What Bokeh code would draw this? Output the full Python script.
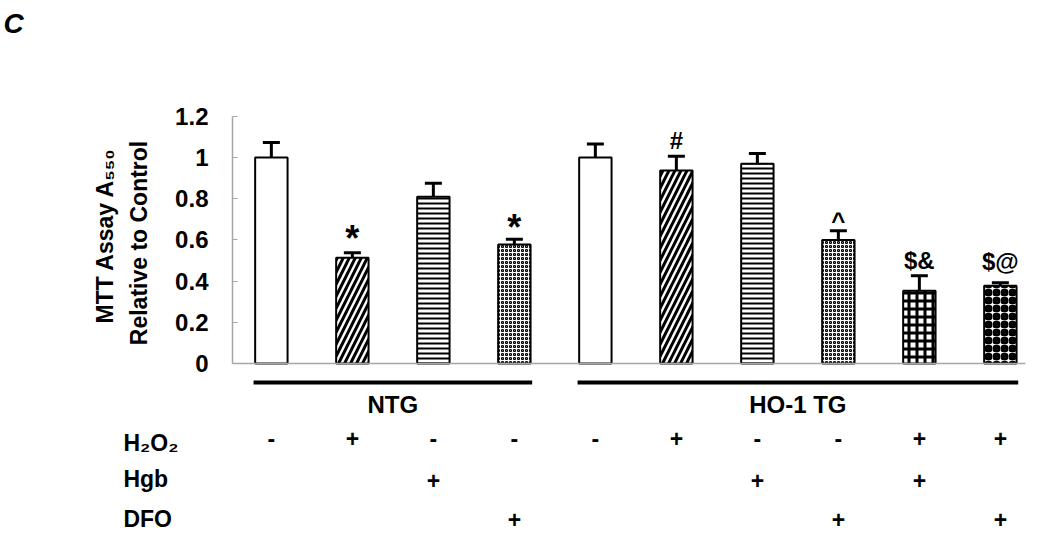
import math
from bokeh.plotting import figure
from bokeh.models import Range1d, FixedTicker, NumeralTickFormatter, ColumnDataSource
from bokeh.core.properties import value
from bokeh.embed import file_html
from bokeh.resources import INLINE

# ---------------- data ----------------
groups = ["NTG", "NTG", "NTG", "NTG", "HO-1 TG", "HO-1 TG", "HO-1 TG", "HO-1 TG", "HO-1 TG", "HO-1 TG"]
means = [1.00, 0.513, 0.809, 0.578, 1.00, 0.937, 0.969, 0.600, 0.353, 0.377]
sems = [0.073, 0.024, 0.066, 0.025, 0.066, 0.069, 0.050, 0.044, 0.073, 0.015]
marks = ["", "*", "", "*", "", "#", "", "^", "$&", "$@"]
h2o2 = ["-", "+", "-", "-", "-", "+", "-", "-", "+", "+"]
hgb = ["", "", "+", "", "", "", "+", "", "+", ""]
dfo = ["", "", "", "+", "", "", "", "+", "", "+"]
row_names = ["H\u2082O\u2082", "Hgb", "DFO"]
y_title = ["MTT Assay A\u2085\u2085\u2080", "Relative to Control"]
y_ticks = [0, 0.2, 0.4, 0.6, 0.8, 1.0, 1.2]

# ---------------- styles ----------------
patterns = [" ", "/", "-", "o", " ", "/", "-", "o", "+", "o"]
hscale = [1, 12, 5, 4, 1, 12, 5, 4, 8, 8]
hweight = [1, 3, 2, 1.2, 1, 3, 2, 1.2, 3, 4.2]
mark_pad = [0, 0.07, 0, 0.055, 0, 0.074, 0, 0.051, 0.072, 0.101]
FONT = "Liberation Sans"
BAR_W = 0.4
CAP = 0.105
GRAY = "#a6a6a6"

xs = list(range(1, len(means) + 1))
tops = [m + s for m, s in zip(means, sems)]

p = figure(width=1050, height=542, output_backend="svg", toolbar_location=None,
           x_range=Range1d(-2.344, 10.619), y_range=Range1d(-0.869, 1.762),
           x_axis_location=None, min_border=0)
p.outline_line_color = None
p.grid.visible = False

ax = p.yaxis[0]
ax.fixed_location = 0.52
ax.bounds = (0, 1.2)
ax.ticker = FixedTicker(ticks=y_ticks)
ax.formatter = NumeralTickFormatter(format="0.[0]")
ax.axis_line_color = GRAY
ax.axis_line_width = 1.5
ax.major_tick_line_color = GRAY
ax.major_tick_in = 5
ax.major_tick_out = 0
ax.minor_tick_line_color = None
ax.major_label_standoff = 24
ax.major_label_text_font = FONT
ax.major_label_text_font_style = "bold"
ax.major_label_text_font_size = "24px"
ax.major_label_text_color = "black"

src = ColumnDataSource(dict(x=xs, top=means, pat=patterns, hs=hscale, hw=hweight))
p.vbar(x="x", top="top", bottom=0, width=BAR_W, source=src, fill_color="white",
       line_color="black", line_width=2, hatch_pattern="pat", hatch_scale="hs",
       hatch_weight="hw", hatch_color="black")

# x axis line
p.segment(x0=[0.52], y0=[0], x1=[10.31], y1=[0], line_color=GRAY, line_width=1.5)

# error bars (upper only)
p.segment(x0=xs, y0=means, x1=xs, y1=tops, line_color="black", line_width=3)
p.segment(x0=[x - CAP for x in xs], y0=tops, x1=[x + CAP for x in xs], y1=tops,
          line_color="black", line_width=3)

# significance marks
star = [(x, t + d) for x, t, d, m in zip(xs, tops, mark_pad, marks) if m == "*"]
p.text(x=[s[0] for s in star], y=[s[1] for s in star], text=["*"] * len(star),
       text_align="center", text_baseline="middle", text_font=value(FONT),
       text_font_style="bold", text_font_size="36px", text_color="black")
oth = [(x, t + d, m) for x, t, d, m in zip(xs, tops, mark_pad, marks) if m not in ("", "*")]
p.text(x=[o[0] for o in oth], y=[o[1] for o in oth], text=[o[2] for o in oth],
       text_align="center", text_baseline="middle", text_font=value(FONT),
       text_font_style="bold", text_font_size="24px", text_color="black")

# group lines and labels
gnames = []
for g in groups:
    if g not in gnames:
        gnames.append(g)
for g in gnames:
    idx = [x for x, gg in zip(xs, groups) if gg == g]
    x0 = min(idx) - BAR_W / 2 - 0.02
    x1 = max(idx) + BAR_W / 2 + 0.02
    p.segment(x0=[x0], y0=[-0.092], x1=[x1], y1=[-0.092], line_color="black", line_width=4)
    p.text(x=[sum(idx) / len(idx)], y=[-0.199], text=[g], text_align="center",
           text_baseline="middle", text_font=value(FONT), text_font_style="bold",
           text_font_size="24px", text_color="black")

# treatment rows
row_y = [-0.364, -0.568, -0.757]
for rows, ry in zip([h2o2, hgb, dfo], row_y):
    p.text(x=xs, y=[ry] * len(xs), text=rows, text_align="center",
           text_baseline="middle", text_font=value(FONT), text_font_style="bold",
           text_font_size="23px", text_color="black")

p.text(x=[-0.826] * 3, y=[-0.388, -0.563, -0.755], text=row_names, text_align="left",
       text_baseline="middle", text_font=value(FONT), text_font_style="bold",
       text_font_size="23px", text_color="black")

# y axis title (two lines)
p.text(x=[-1.054, -0.634], y=[0.621, 0.585], text=y_title, angle=math.pi / 2,
       text_align="center", text_baseline="middle", text_font=value(FONT),
       text_font_style="bold", text_font_size="23px", text_color="black")

# panel letter
p.text(x=[-2.307], y=[1.650], text=["C"], text_align="left", text_baseline="middle",
       text_font=value(FONT), text_font_style="bold italic", text_font_size="28px",
       text_color="black")

open("out.html", "w").write(file_html(p, INLINE))
